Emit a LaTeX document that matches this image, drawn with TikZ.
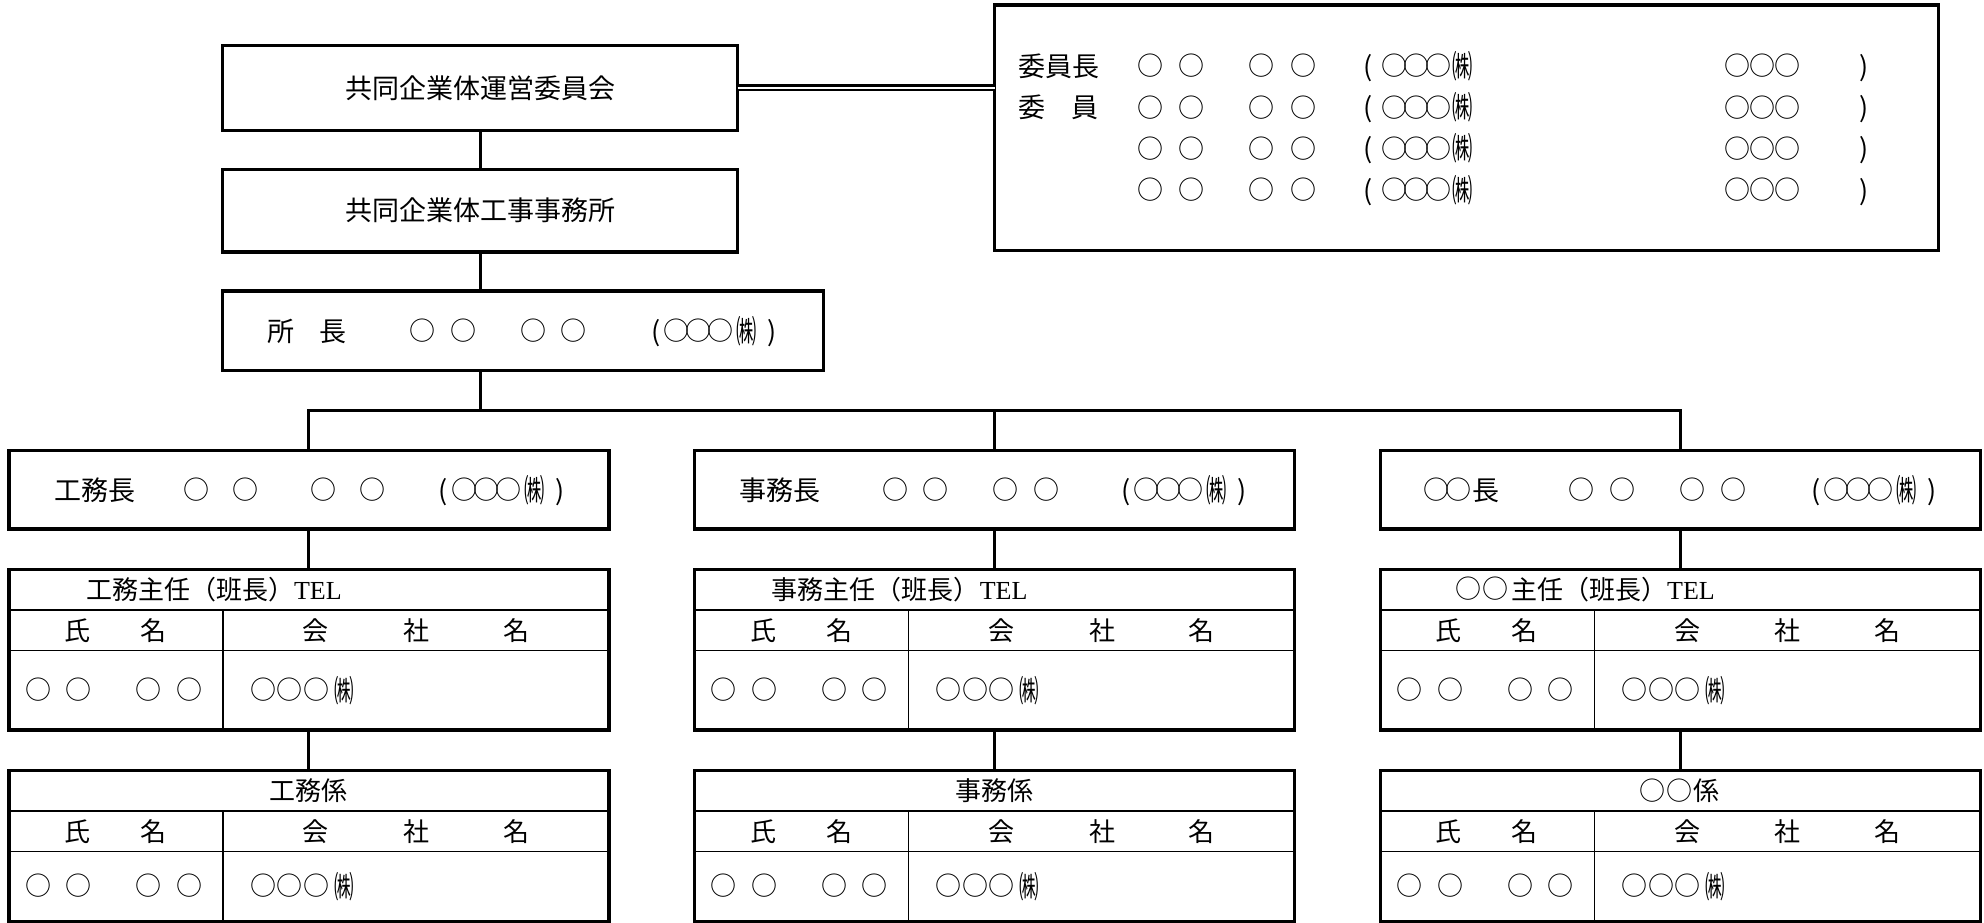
\documentclass[tikz,border=0pt]{standalone}
\usepackage{graphicx}
\usepackage{fontspec}
\setmainfont{Noto Sans CJK JP}
\newfontfamily\telfont{Liberation Serif}
\newcommand\mci{\makebox[22pt]{\raisebox{0.7pt}{\fontsize{26pt}{26pt}\selectfont ○}}}
\newcommand\kabu{\raisebox{-2pt}{\scalebox{0.75}[1.2]{㈱}}}
\newcommand\fsA{\fontsize{27pt}{27pt}\selectfont}
\newcommand\fsT{\fontsize{26pt}{26pt}\selectfont}
\tikzset{
  box/.style={draw, line width=3.5pt, inner sep=0pt, outer sep=0pt, anchor=north west},
  conn/.style={line width=3pt, line join=miter},
  rule/.style={line width=1.4pt},
  lbl/.style={inner sep=0pt, font=\fsA, text height=23.8pt, text depth=3.2pt, anchor=west},
  tlbl/.style={inner sep=0pt, font=\fsT, text height=22.9pt, text depth=3.1pt, anchor=west},
}
% #1 prefix, #2 left x, #3 top y, #4 height
\newcommand\orgtable[4]{%
  \node[box, minimum width=600pt, minimum height=#4pt] (#1) at (#2,#3) {};
  \draw[rule] ([yshift=-40.5pt]#1.north west) -- ([yshift=-40.5pt]#1.north east);
  \draw[rule] ([yshift=-81pt]#1.north west) -- ([yshift=-81pt]#1.north east);
  \draw[rule] ([xshift=214pt,yshift=-40.5pt]#1.north west) -- ([xshift=214pt]#1.south west);
  \node[tlbl,anchor=center] (#1ha) at (#2+68.5,#3+60.75) {氏};
  \node[tlbl,anchor=center] (#1hb) at (#2+144.5,#3+60.75) {名};
  \node[tlbl,anchor=center] (#1hc) at (#2+306.8,#3+60.75) {会};
  \node[tlbl,anchor=center] (#1hd) at (#2+407.4,#3+60.75) {社};
  \node[tlbl,anchor=center] (#1he) at (#2+507.3,#3+60.75) {名};
  \node[tlbl] (#1da) at (#2+18,#3+40.5+#4/2) {\mci\hspace{18.5pt}\mci};
  \node[tlbl] (#1db) at (#2+128.5,#3+40.5+#4/2) {\mci\hspace{18.5pt}\mci};
  \node[tlbl] (#1dc) at (#2+243,#3+40.5+#4/2) {\mci\hspace{4.5pt}\mci\hspace{4.5pt}\mci\hspace{7pt}\kabu};
}
\begin{document}
\begin{tikzpicture}[x=1pt,y=-1pt]
\useasboundingbox (0,0) rectangle (1984,923);
\fill[white] (0,0) rectangle (1984,923);

% top boxes
\node[box, minimum width=515pt, minimum height=84.8pt] (b1) at (222.7,45.5) {};
\node[lbl, anchor=center] (b1t) at (b1.center) {共同企業体運営委員会};
\node[box, minimum width=515pt, minimum height=82.3pt] (b2) at (222.7,169.5) {};
\node[lbl, anchor=center] (b2t) at (b2.center) {共同企業体工事事務所};
\node[box, minimum width=601pt, minimum height=79.7pt] (b3) at (222.7,291) {};
\node[lbl] (b3a) at (267,330.9) {所};
\node[lbl] (b3b) at (319.5,330.9) {長};
\node[lbl] (b3c) at (411.5,330.9) {\mci\hspace{18.5pt}\mci};
\node[lbl] (b3d) at (522,330.9) {\mci\hspace{18.5pt}\mci};
\node[lbl] (b3e) at (651,330.9) {(\hspace{5pt}\mci\mci\mci\hspace{5pt}\kabu\hspace{11pt})};

% committee
\node[box, minimum width=943.9pt, minimum height=245.5pt] (com) at (994.5,5) {};
\node[lbl] (c1a) at (1018.5,66) {委員長};
\node[lbl] (c2a) at (1018.5,107.5) {委};
\node[lbl] (c2b) at (1071.5,107.5) {員};
\foreach \yy/\nn in {66/1,107.5/2,148.5/3,190/4}{
  \node[lbl] (c\nn p) at (1139,\yy) {\mci\hspace{19.3pt}\mci};
  \node[lbl] (c\nn q) at (1250.5,\yy) {\mci\hspace{19.3pt}\mci};
  \node[lbl] (c\nn r) at (1363,\yy) {(\hspace{11pt}\mci\mci\mci\hspace{3pt}\kabu};
  \node[lbl] (c\nn s) at (1726,\yy) {\mci\hspace{3pt}\mci\hspace{3pt}\mci};
  \node[lbl] (c\nn t) at (1859,\yy) {)};
}
\draw[line width=2.8pt, double, double distance=1.6pt] (b1.east) -- (b1.east -| com.west);

% row boxes
\node[box, minimum width=600pt, minimum height=78.5pt] (r1) at (8.9,450.4) {};
\node[box, minimum width=600pt, minimum height=78.5pt] (r2) at (694.6,450.4) {};
\node[box, minimum width=600pt, minimum height=78.5pt] (r3) at (1380.4,450.4) {};
\node[lbl] (r1a) at (54.5,489.7) {工務長};
\node[lbl] (r1b) at (185,489.7) {\mci\hspace{27pt}\mci};
\node[lbl] (r1c) at (312.2,489.7) {\mci\hspace{27pt}\mci};
\node[lbl] (r1d) at (438.7,489.7) {(\hspace{5pt}\mci\mci\mci\hspace{5pt}\kabu\hspace{11pt})};
\node[lbl] (r2a) at (739.3,489.7) {事務長};
\node[lbl] (r2b) at (884,489.7) {\mci\hspace{18.5pt}\mci};
\node[lbl] (r2c) at (994.5,489.7) {\mci\hspace{19pt}\mci};
\node[lbl] (r2d) at (1120.9,489.7) {(\hspace{5pt}\mci\mci\mci\hspace{5pt}\kabu\hspace{11pt})};
\node[lbl] (r3a) at (1425,489.7) {\mci\mci\hspace{3pt}長};
\node[lbl] (r3b) at (1570.5,489.7) {\mci\hspace{19pt}\mci};
\node[lbl] (r3c) at (1681.2,489.7) {\mci\hspace{19pt}\mci};
\node[lbl] (r3d) at (1811,489.7) {(\hspace{5pt}\mci\mci\mci\hspace{5pt}\kabu\hspace{11pt})};

% tables
\orgtable{tA1}{8.9}{569.4}{160.7}
\orgtable{tA2}{694.6}{569.4}{160.7}
\orgtable{tA3}{1380.4}{569.4}{160.7}
\orgtable{tB1}{8.9}{770.6}{151}
\orgtable{tB2}{694.6}{770.6}{151}
\orgtable{tB3}{1380.4}{770.6}{151}
\node[tlbl] (tA1t) at (8.9+77,589.7) {工務主任（班長）{\telfont TEL}};
\node[tlbl] (tA2t) at (694.6+77,589.7) {事務主任（班長）{\telfont TEL}};
\node[tlbl] (tA3t) at (1380.4+77,589.7) {\mci\hspace{4.5pt}\mci\hspace{5pt}主任（班長）{\telfont TEL}};
\node[tlbl, anchor=center] (tB1t) at (308.9,790.8) {工務係};
\node[tlbl, anchor=center] (tB2t) at (994.6,790.8) {事務係};
\node[tlbl, anchor=center] (tB3t) at (1680.4,790.8) {\mci\hspace{4.5pt}\mci\hspace{3pt}係};

% connectors
\draw[conn] (b1.south) -- (b2.north);
\draw[conn] (b2.south) -- (b2.south |- b3.north);
\coordinate (busc) at (480.2,410);
\draw[conn] (b2.south |- b3.south) -- (busc);
\draw[conn] (r1.north) |- (r3.north |- busc) -- (r3.north);
\draw[conn] (r2.north |- busc) -- (r2.north);
\foreach \i in {1,2,3}{
  \draw[conn] (r\i.south) -- (tA\i.north);
  \draw[conn] (tA\i.south) -- (tB\i.north);
}
\end{tikzpicture}
\end{document}
